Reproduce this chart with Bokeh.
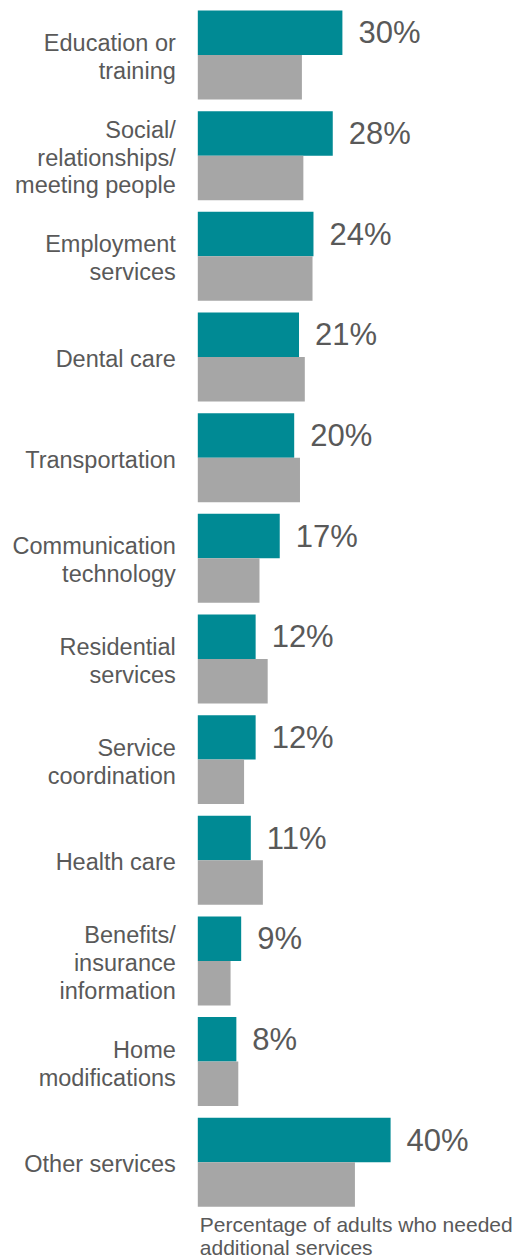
from bokeh.plotting import figure
from bokeh.models import Range1d, ColumnDataSource
from bokeh.core.properties import value
from bokeh.embed import file_html
from bokeh.resources import INLINE

categories = [
    "Education or\ntraining",
    "Social/\nrelationships/\nmeeting people",
    "Employment\nservices",
    "Dental care",
    "Transportation",
    "Communication\ntechnology",
    "Residential\nservices",
    "Service\ncoordination",
    "Health care",
    "Benefits/\ninsurance\ninformation",
    "Home\nmodifications",
    "Other services",
]
needed = [30, 28, 24, 21, 20, 17, 12, 12, 11, 9, 8, 40]
comparison = [21.6, 21.9, 23.8, 22.2, 21.2, 12.8, 14.5, 9.6, 13.5, 6.8, 8.4, 32.6]
value_labels = [f"{v}%" for v in needed]
axis_title = "Percentage of adults who needed\nadditional services"

TEAL = "#008A94"
GRAY = "#A6A6A6"
TEXT = "#595959"
FONT = value("Liberation Sans")

W, H = 520, 1258
px_per_pct = 4.82
zero_px = 197.3
pitch = 100.66
first_center = 54.5
bar_h = 0.442

n = len(categories)
idx = list(range(n))

p = figure(
    width=W, height=H, output_backend="svg", toolbar_location=None,
    x_range=Range1d(-zero_px / px_per_pct, (W - zero_px) / px_per_pct),
    y_range=Range1d((H - first_center) / pitch, -first_center / pitch),
    min_border=0, min_border_left=0, min_border_right=0,
    min_border_top=0, min_border_bottom=0,
)
p.axis.visible = False
p.grid.visible = False
p.outline_line_color = None
p.background_fill_color = "white"
p.border_fill_color = "white"

src = ColumnDataSource(dict(
    y=idx,
    y_teal=[i - bar_h / 2 for i in idx],
    y_gray=[i + bar_h / 2 for i in idx],
    needed=needed,
    comparison=comparison,
    cat=categories,
    lab=value_labels,
))

p.hbar(y="y_teal", height=bar_h, left=0, right="needed", source=src,
       fill_color=TEAL, line_color=None)
p.hbar(y="y_gray", height=bar_h, left=0, right="comparison", source=src,
       fill_color=GRAY, line_color=None)

p.text(x="needed", y="y_teal", text="lab", source=src, x_offset=16,
       text_font=FONT, text_font_size="31px", text_color=TEXT,
       text_baseline="middle", text_align="left")

p.text(x=0, y="y", text="cat", source=src, x_offset=-22, y_offset=2,
       text_font=FONT, text_font_size="23.5px", text_color=TEXT,
       text_baseline="middle", text_align="right", text_line_height=1.07)

p.text(x=[0], y=[n - 1 + bar_h], text=[axis_title], x_offset=2, y_offset=6,
       text_font=FONT, text_font_size="21px", text_color=TEXT,
       text_baseline="top", text_align="left", text_line_height=1.0)

open("out.html", "w").write(file_html(p, INLINE))
